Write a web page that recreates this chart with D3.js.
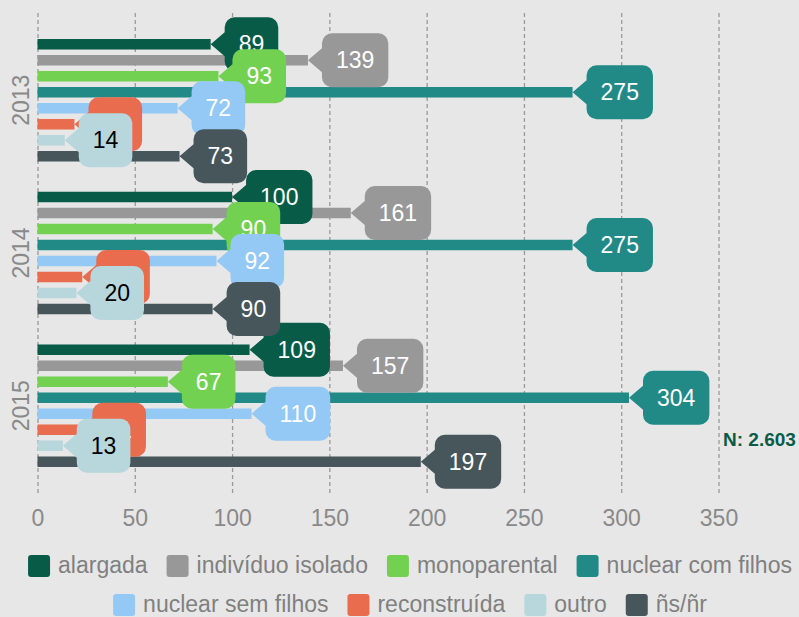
<!DOCTYPE html>
<html>
<head>
<meta charset="utf-8">
<script src="https://cdn.jsdelivr.net/npm/d3@7"></script>
<style>
  body { margin: 0; background: #e7e7e7; }
  svg { display: block; font-family: "Liberation Sans", Arial, sans-serif; }
</style>
</head>
<body>
<svg id="svg" width="799" height="617"></svg>
<script>
// dados
var years = ['2013', '2014', '2015']
var series = ['alargada', 'indivíduo isolado', 'monoparental', 'nuclear com filhos',
              'nuclear sem filhos', 'reconstruída', 'outro', 'ñs/ñr']
var colors = ['#085c47', '#989898', '#73d152', '#218a87',
              '#94c8f5', '#e86c4d', '#b7d7dc', '#47565b']
var labelText = ['#fff', '#fff', '#fff', '#fff', '#fff', '#fff', '#000', '#fff']

var alargada = [89, 100, 109]
var individuo = [139, 161, 157]
var monoparental = [93, 90, 67]
var nuclearCom = [275, 275, 304]
var nuclearSem = [72, 92, 110]
var reconstruida = [19, 23, 21]
var outro = [14, 20, 13]
var nsnr = [73, 90, 197]

var xTicks = [0, 50, 100, 150, 200, 250, 300, 350]
var totalLabel = 'N: 2.603'

var values = [alargada, individuo, monoparental, nuclearCom, nuclearSem, reconstruida, outro, nsnr]

var svg = d3.select('#svg')

var x = d3.scaleLinear().domain([0, 350]).range([37.5, 718.5])
var y = d3.scaleBand().domain(years).range([13, 493]).paddingInner(0).paddingOuter(0.0713)
var inner = d3.scalePoint().domain(series).range([-56, 56])

var barH = 10.5

// grelha
var xAxis = d3.axisBottom(x).tickValues(xTicks).tickSize(-480).tickPadding(0)
var ax = svg.append('g')
    .attr('transform', 'translate(0,493)')
    .call(xAxis)
ax.select('.domain').remove()
ax.selectAll('.tick line')
    .attr('stroke', '#999')
    .attr('stroke-width', 1.3)
    .attr('stroke-dasharray', '4,3')
ax.selectAll('.tick text')
    .attr('y', 33)
    .attr('dy', 0)
    .attr('fill', '#898989')
    .style('font-size', '23px')
    .style('font-family', '"Liberation Sans", Arial, sans-serif')

// anos
svg.selectAll('.year')
    .data(years)
    .enter().append('text')
    .attr('class', 'year')
    .attr('transform', function(d) {
        return 'translate(29,' + (y(d) + y.bandwidth() / 2) + ') rotate(-90)'
    })
    .attr('text-anchor', 'middle')
    .attr('fill', '#898989')
    .style('font-size', '23px')
    .text(function(d) { return d })

// barras
var points = []
series.forEach(function(s, i) {
    years.forEach(function(yr, j) {
        points.push({ s: s, i: i, year: yr, v: values[i][j] })
    })
})

svg.append('g').selectAll('rect')
    .data(points)
    .enter().append('rect')
    .attr('x', x(0))
    .attr('y', function(d) { return y(d.year) + y.bandwidth() / 2 + inner(d.s) - barH / 2 })
    .attr('width', function(d) { return x(d.v) - x(0) })
    .attr('height', barH)
    .attr('fill', function(d) { return colors[d.i] })

// etiquetas (callout)
function callout(tx, ty, w, h) {
    var r = 10, bx = tx + 14, top = ty - h / 2, p = 12
    return 'M' + (bx + r) + ',' + top +
        'H' + (bx + w - r) + 'A' + r + ',' + r + ' 0 0 1 ' + (bx + w) + ',' + (top + r) +
        'V' + (top + h - r) + 'A' + r + ',' + r + ' 0 0 1 ' + (bx + w - r) + ',' + (top + h) +
        'H' + (bx + r) + 'A' + r + ',' + r + ' 0 0 1 ' + bx + ',' + (top + h - r) +
        'V' + (ty + p) + 'L' + tx + ',' + ty + 'L' + bx + ',' + (ty - p) +
        'V' + (top + r) + 'A' + r + ',' + r + ' 0 0 1 ' + (bx + r) + ',' + top + 'Z'
}

var labels = svg.append('g')
points.forEach(function(d) {
    var tx = x(d.v)
    var ty = y(d.year) + y.bandwidth() / 2 + inner(d.s)
    var g = labels.append('g')
    var t = g.append('text')
        .attr('y', ty)
        .attr('dy', '0.35em')
        .attr('text-anchor', 'middle')
        .attr('fill', labelText[d.i])
        .style('font-size', '23px')
        .text(d.v)
    var w = t.node().getComputedTextLength() + 28
    t.attr('x', tx + 14 + w / 2)
    g.insert('path', 'text')
        .attr('d', callout(tx, ty, w, 54))
        .attr('fill', colors[d.i])
})

// total
svg.append('text')
    .attr('x', 723)
    .attr('y', 446)
    .attr('fill', '#085c47')
    .style('font-size', '19px')
    .style('font-weight', 'bold')
    .text(totalLabel)

// legenda
var rows = [series.slice(0, 4), series.slice(4)]
var rowY = [566, 605]
rows.forEach(function(row, k) {
    var lg = svg.append('g')
    var xpos = 0
    row.forEach(function(s) {
        var i = series.indexOf(s)
        var item = lg.append('g').attr('transform', 'translate(' + xpos + ',0)')
        item.append('rect')
            .attr('x', 0).attr('y', rowY[k] - 11)
            .attr('width', 22).attr('height', 22)
            .attr('rx', 3)
            .attr('fill', colors[i])
        var t = item.append('text')
            .attr('x', 30)
            .attr('y', rowY[k] + 7)
            .attr('fill', '#808080')
            .style('font-size', '23px')
            .text(s)
        xpos += 30 + t.node().getComputedTextLength() + 19
    })
    var total = xpos - 19
    lg.attr('transform', 'translate(' + (410 - total / 2) + ',0)')
})
</script>
</body>
</html>
